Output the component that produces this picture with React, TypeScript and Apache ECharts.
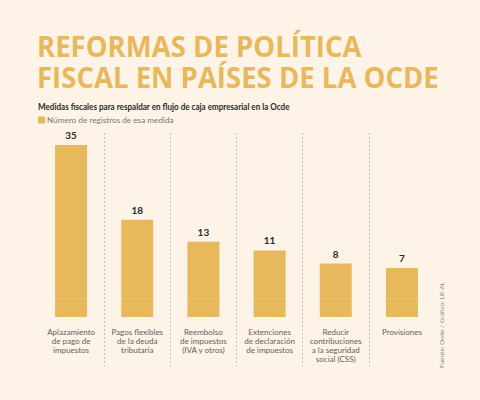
import React, { useEffect, useRef } from "react";
import * as echarts from "echarts";

const categories = [
  "Aplazamiento\nde pago de\nimpuestos",
  "Pagos flexibles\nde la deuda\ntributaria",
  "Reembolso\nde impuestos\n(IVA y otros)",
  "Extenciones\nde declaración\nde impuestos",
  "Reducir\ncontribuciones\na la seguridad\nsocial (CSS)",
  "Provisiones",
];
const values = [35, 18, 13, 11, 8, 7];
const seriesName = "Número de registros de esa medida";
const baseOffset = 4.15;

const titleLines = ["REFORMAS DE POLÍTICA", "FISCAL EN PAÍSES DE LA OCDE"];
const subtitle = "Medidas fiscales para respaldar en flujo de caja empresarial en la Ocde";
const source = "Fuente: Ocde / Gráfico: LR-AL";

const GOLD = "#e8b85c";
const BG = "#fdf4e7";

export default function App() {
  const ref = useRef<HTMLDivElement>(null);
  useEffect(() => {
    if (!ref.current) return;
    const chart = echarts.init(ref.current, null, { renderer: "svg" });
    const font = "Lato";
    chart.setOption({
      animation: false,
      backgroundColor: BG,
      textStyle: { fontFamily: font },
      graphic: [
        {
          type: "text",
          x: 37,
          y: 31,
          scaleX: 0.95,
          style: {
            text: titleLines[0],
            font: "bold 29px 'Open Sans'",
            fill: GOLD,
          },
        },
        {
          type: "text",
          x: 37,
          y: 62,
          scaleX: 0.95,
          style: {
            text: titleLines[1],
            font: "bold 29px 'Open Sans'",
            fill: GOLD,
          },
        },
        {
          type: "text",
          x: 38,
          y: 102,
          scaleX: 0.9,
          style: {
            text: subtitle,
            font: "bold 9px Lato",
            fill: "#2b2b2b",
          },
        },
        {
          type: "text",
          x: 441,
          y: 368,
          rotation: Math.PI / 2,
          style: {
            text: source,
            font: "6.5px Lato",
            fill: "#888",
            align: "left",
            verticalAlign: "middle",
          },
        },
      ],
      legend: {
        data: [seriesName],
        left: 33,
        top: 111,
        icon: "rect",
        itemWidth: 7,
        itemHeight: 7,
        itemGap: 4,
        textStyle: { fontSize: 8.2, color: "#777", fontFamily: font, padding: [0, 0, 0, -3] },
        selectedMode: false,
      },
      grid: [
        { left: 38, right: 45, top: 145, bottom: 83 },
        { left: 38, right: 45, top: 133, bottom: 34 },
      ],
      xAxis: [
        {
          type: "category",
          data: categories,
          gridIndex: 0,
          axisLine: { show: false },
          axisTick: { show: false },
          axisLabel: {
            interval: 0,
            margin: 10,
            fontSize: 8,
            lineHeight: 9,
            color: "#5e5e5e",
            fontFamily: font,
          },
        },
        {
          type: "category",
          data: categories,
          gridIndex: 1,
          axisLine: { show: false },
          axisTick: { show: false },
          axisLabel: { show: false },
          splitLine: {
            show: true,
            interval: 0,
            showMinLine: false,
            showMaxLine: false,
            lineStyle: { type: [2, 2], color: "#c4c0b8", width: 1 },
          },
        },
      ],
      yAxis: [
        { type: "value", gridIndex: 0, min: 0, max: 35 + baseOffset, show: false },
        { type: "value", gridIndex: 1, show: false },
      ],
      series: [
        {
          type: "bar",
          name: "base",
          stack: "s",
          data: values.map(() => baseOffset),
          barWidth: 32,
          itemStyle: { color: GOLD },
          silent: true,
        },
        {
          type: "bar",
          name: seriesName,
          stack: "s",
          data: values,
          barWidth: 32,
          itemStyle: { color: GOLD },
          label: {
            show: true,
            position: "top",
            distance: 5,
            fontSize: 10,
            fontWeight: "bold",
            color: "#2a2a2a",
            fontFamily: font,
          },
        },
      ],
    });
    return () => chart.dispose();
  }, []);
  return (
    <div
      ref={ref}
      style={{ position: "absolute", left: 0, top: 0, width: 480, height: 400 }}
    />
  );
}
